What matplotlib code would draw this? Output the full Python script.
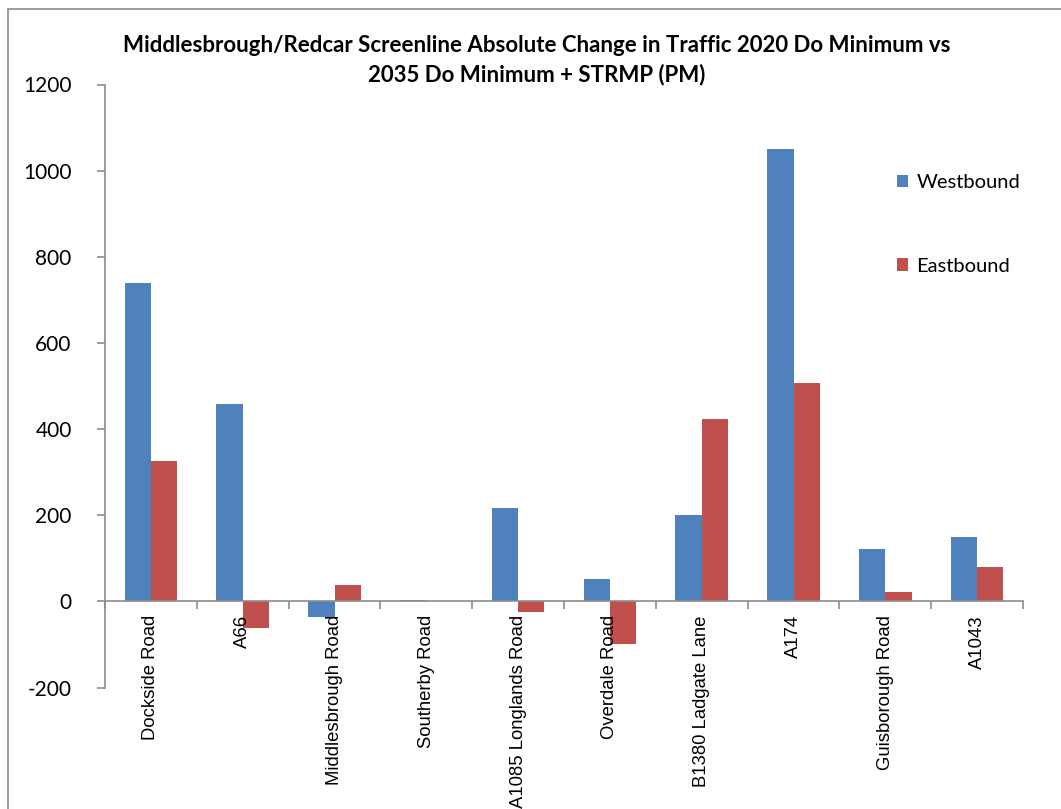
import numpy as np
import matplotlib.pyplot as plt
from matplotlib.patches import Rectangle

roads = ["Dockside Road", "A66", "Middlesbrough Road", "Southerby Road",
         "A1085 Longlands Road", "Overdale Road", "B1380 Ladgate Lane",
         "A174", "Guisborough Road", "A1043"]
westbound = [740, 458, -36, 3, 217, 53, 201, 1051, 121, 150]
eastbound = [326, -62, 39, 0, -24, -98, 423, 508, 22, 79]
yticks = [-200, 0, 200, 400, 600, 800, 1000, 1200]

W, H = 1061, 809
fig = plt.figure(figsize=(W / 100, H / 100), dpi=100)
fig.patches.append(Rectangle((8 / W, -0.1), 1.2, (H - 9) / H + 0.1,
                             transform=fig.transFigure, fill=False,
                             edgecolor="#8c8c8c", lw=1.2))

ax = fig.add_axes([105 / W, 1 - 687.5 / H, (1023 - 105) / W, (687.5 - 84.5) / H])

x = np.arange(len(roads))
bw = 1 / 3.5
ax.bar(x - bw / 2, westbound, bw, color="#4F81BD", label="Westbound")
ax.bar(x + bw / 2, eastbound, bw, color="#C0504D", label="Eastbound")

ax.set_xlim(-0.5, len(roads) - 0.5)
ax.set_ylim(-200, 1200)
ax.set_yticks(yticks)
ax.set_yticklabels([str(v) for v in yticks], fontfamily="Lato", fontsize=15)

ax.spines["top"].set_visible(False)
ax.spines["right"].set_visible(False)
ax.spines["bottom"].set_position(("data", 0))
for s in ("left", "bottom"):
    ax.spines[s].set_color("#8c8c8c")
    ax.spines[s].set_linewidth(1.2)

ax.set_xticks(np.arange(len(roads) + 1) - 0.5)
ax.set_xticklabels([])
ax.set_xticks(x, minor=True)
ax.set_xticklabels(roads, minor=True, rotation=90, fontfamily="Liberation Sans",
                   fontsize=13.3, va="top", ha="center")
ax.tick_params(axis="x", which="major", length=6, color="#8c8c8c", width=1.2)
ax.tick_params(axis="x", which="minor", length=0, pad=10)
ax.tick_params(axis="y", length=6, color="#8c8c8c", width=1.2, pad=18)

fig.text(537 / W, 1 - 60 / H,
         "Middlesbrough/Redcar Screenline Absolute Change in Traffic 2020 Do Minimum vs\n"
         "2035 Do Minimum + STRMP (PM)",
         ha="center", va="center", fontfamily="Lato", fontweight="bold",
         fontsize=16, linespacing=1.45)

ax.legend(loc="upper left", bbox_to_anchor=(879 / W, 1 - 156 / H),
          bbox_transform=fig.transFigure, frameon=False,
          prop={"family": "Lato", "size": 14.5}, handlelength=0.55,
          handleheight=0.55, handletextpad=0.4, labelspacing=3.3)

fig.savefig("out.png", dpi=100)
